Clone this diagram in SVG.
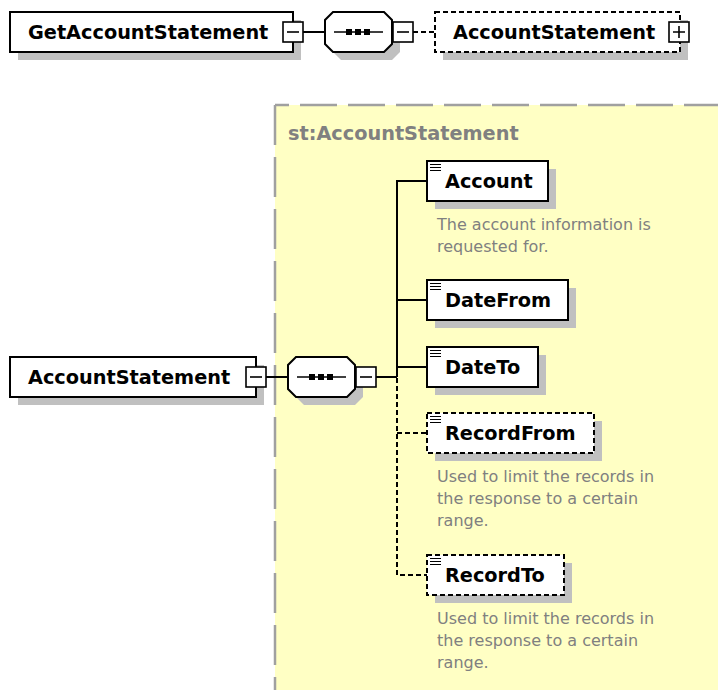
<svg xmlns="http://www.w3.org/2000/svg" width="718" height="690" viewBox="0 0 718 690">
  <style>
    .shadow { fill: #c0c0c0; }
    .box { fill: #ffffff; stroke: #000000; stroke-width: 2; }
    .opt { fill: #ffffff; stroke: #000000; stroke-width: 2; stroke-dasharray: 5 3; }
    .name { font-family: "DejaVu Sans", Verdana, sans-serif; font-weight: bold; font-size: 19.3px; fill: #000000; }
    .doc { font-family: "DejaVu Sans", Verdana, sans-serif; font-size: 16px; fill: #808080; }
    .type { font-family: "DejaVu Sans", Verdana, sans-serif; font-weight: bold; font-size: 19.3px; fill: #808080; }
    .wire { fill: none; stroke: #000000; stroke-width: 2; }
    .wire-opt { fill: none; stroke: #000000; stroke-width: 2; stroke-dasharray: 5 3; }
    .toggle { fill: #ffffff; stroke: #000000; stroke-width: 1.6; }
    .glyph { stroke: #000000; stroke-width: 1.6; fill: none; }
  </style>
  <defs>
    <!-- expand/collapse toggles, centred on their anchor point -->
    <g id="minus">
      <rect class="toggle" x="-10" y="-10" width="20" height="20"/>
      <path class="glyph" d="M-6 0H6"/>
    </g>
    <g id="plus">
      <rect class="toggle" x="-10" y="-10" width="20" height="20"/>
      <path class="glyph" d="M-6 0H6M0 -6V6"/>
    </g>
    <!-- simple-content marker in element boxes -->
    <path id="lines" d="M0 0.5H11M0 3.5H11M0 6.5H11" stroke="#000" stroke-width="1.2"/>
    <!-- sequence compositor, 67 x 40 -->
    <g id="seq">
      <path d="M16 8H67L75 16V40L67 48H16L8 40V16Z" class="shadow"/>
      <path d="M8 0H59L67 8V32L59 40H8L0 32V8Z" class="box"/>
      <path d="M9 20H58" stroke="#000" stroke-width="1.6"/>
      <rect x="21" y="17" width="6" height="6" fill="#000"/>
      <rect x="30" y="17" width="6" height="6" fill="#000"/>
      <rect x="39" y="17" width="6" height="6" fill="#000"/>
    </g>
  </defs>

  <!-- complex type area -->
  <rect x="275" y="105" width="443" height="585" fill="#ffffc4"/>
  <path d="M275 105H718" stroke="#a0a0a0" stroke-width="2.5" stroke-dasharray="37 11" stroke-dashoffset="23" fill="none"/>
  <path d="M275 105V690" stroke="#a0a0a0" stroke-width="2.5" stroke-dasharray="40 12" fill="none"/>
  <text class="type" x="288" y="140">st:AccountStatement</text>

  <!-- connectors -->
  <g id="connectors">
    <path class="wire" d="M303 32H325"/>
    <path class="wire-opt" d="M413 32H435"/>
    <path class="wire" d="M266 377H288"/>
    <path class="wire" d="M376 377H397"/>
    <path class="wire" d="M427 181H397V377"/>
    <path class="wire" d="M397 300H427"/>
    <path class="wire" d="M397 367H427"/>
    <path class="wire-opt" d="M397 378V575H427"/>
    <path class="wire-opt" d="M397 433H427"/>
  </g>

  <!-- GetAccountStatement -->
  <g id="GetAccountStatement">
    <rect class="shadow" x="18" y="20" width="283" height="40"/>
    <rect class="box" x="10" y="12" width="283" height="40"/>
    <text class="name" x="28" y="39">GetAccountStatement</text>
    <use href="#minus" x="293" y="32"/>
  </g>

  <g id="seq-top">
    <use href="#seq" x="325" y="12"/>
    <use href="#minus" x="403" y="32"/>
  </g>

  <g id="AccountStatement-ref">
    <rect class="shadow" x="443" y="20" width="245" height="40"/>
    <rect class="opt" x="435" y="12" width="245" height="40"/>
    <text class="name" x="453" y="39">AccountStatement</text>
    <use href="#plus" x="679" y="32"/>
  </g>

  <!-- AccountStatement -->
  <g id="AccountStatement">
    <rect class="shadow" x="18" y="365" width="246" height="40"/>
    <rect class="box" x="10" y="357" width="246" height="40"/>
    <text class="name" x="28" y="384">AccountStatement</text>
    <use href="#minus" x="256" y="377"/>
  </g>

  <g id="seq-main">
    <use href="#seq" x="288" y="357"/>
    <use href="#minus" x="366" y="377"/>
  </g>

  <g id="Account">
    <rect class="shadow" x="435" y="169" width="121" height="40"/>
    <rect class="box" x="427" y="161" width="121" height="40"/>
    <use href="#lines" x="430" y="164"/>
    <text class="name" x="445" y="188">Account</text>
    <text class="doc" x="437" y="230">The account information is</text>
    <text class="doc" x="437" y="252">requested for.</text>
  </g>

  <g id="DateFrom">
    <rect class="shadow" x="435" y="288" width="141" height="40"/>
    <rect class="box" x="427" y="280" width="141" height="40"/>
    <use href="#lines" x="430" y="283"/>
    <text class="name" x="445" y="307">DateFrom</text>
  </g>

  <g id="DateTo">
    <rect class="shadow" x="435" y="355" width="111" height="40"/>
    <rect class="box" x="427" y="347" width="111" height="40"/>
    <use href="#lines" x="430" y="350"/>
    <text class="name" x="445" y="374">DateTo</text>
  </g>

  <g id="RecordFrom">
    <rect class="shadow" x="435" y="421" width="167" height="40"/>
    <rect class="opt" x="427" y="413" width="167" height="40"/>
    <use href="#lines" x="430" y="416"/>
    <text class="name" x="445" y="440">RecordFrom</text>
    <text class="doc" x="437" y="482">Used to limit the records in</text>
    <text class="doc" x="437" y="504">the response to a certain</text>
    <text class="doc" x="437" y="526">range.</text>
  </g>

  <g id="RecordTo">
    <rect class="shadow" x="435" y="563" width="137" height="40"/>
    <rect class="opt" x="427" y="555" width="137" height="40"/>
    <use href="#lines" x="430" y="558"/>
    <text class="name" x="445" y="582">RecordTo</text>
    <text class="doc" x="437" y="624">Used to limit the records in</text>
    <text class="doc" x="437" y="646">the response to a certain</text>
    <text class="doc" x="437" y="668">range.</text>
  </g>
</svg>
